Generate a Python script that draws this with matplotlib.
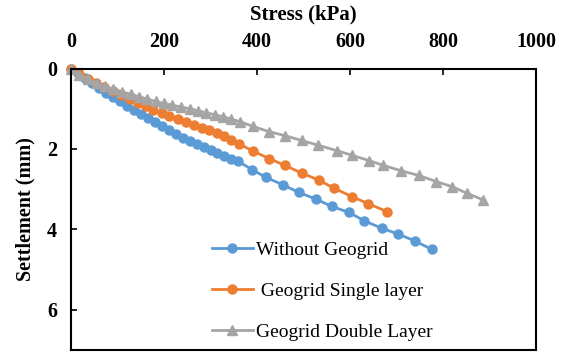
import matplotlib
matplotlib.use("Agg")
import matplotlib.pyplot as plt

# load-settlement readings (stress in kPa, settlement in mm)
stress_none = [0, 15, 30, 45, 60, 75, 90, 105, 120, 135, 150, 165, 180, 195, 210,
               225, 240, 255, 270, 285, 300, 315, 330, 345, 360, 390, 420, 455,
               490, 527, 561, 598, 631, 668, 704, 740, 776]
settle_none = [0, 0.12, 0.24, 0.36, 0.48, 0.60, 0.71, 0.82, 0.93, 1.03, 1.13, 1.23,
               1.33, 1.44, 1.54, 1.63, 1.72, 1.80, 1.88, 1.96, 2.03, 2.10, 2.17,
               2.24, 2.31, 2.52, 2.71, 2.89, 3.08, 3.25, 3.43, 3.58, 3.79, 3.97,
               4.12, 4.29, 4.50]

stress_single = [0, 18, 36, 54, 72, 90, 108, 126, 144, 162, 177, 195, 211, 230, 247,
                 264, 281, 297, 313, 328, 345, 362, 391, 426, 460, 496, 534, 566,
                 605, 639, 680]
settle_single = [0, 0.13, 0.25, 0.36, 0.46, 0.56, 0.66, 0.76, 0.85, 0.94, 1.02, 1.10,
                 1.17, 1.26, 1.33, 1.40, 1.47, 1.54, 1.61, 1.69, 1.78, 1.88, 2.05,
                 2.24, 2.41, 2.60, 2.78, 2.98, 3.19, 3.36, 3.56]

stress_double = [0, 18, 36, 55, 73, 91, 110, 128, 146, 164, 182, 200, 218, 237, 255,
                 273, 291, 309, 327, 345, 363, 391, 426, 460, 496, 532, 571, 605,
                 641, 672, 709, 748, 785, 820, 851, 885]
settle_double = [0, 0.15, 0.26, 0.36, 0.44, 0.51, 0.58, 0.64, 0.70, 0.76, 0.82, 0.87,
                 0.91, 0.96, 1.00, 1.05, 1.10, 1.15, 1.20, 1.26, 1.32, 1.44, 1.57,
                 1.67, 1.79, 1.91, 2.04, 2.16, 2.29, 2.41, 2.54, 2.66, 2.81, 2.94,
                 3.10, 3.26]

labels = ['Without Geogrid', ' Geogrid Single layer', 'Geogrid Double Layer']
colors = ['#5B9BD5', '#ED7D31', '#A5A5A5']

plt.rcParams['font.family'] = 'Liberation Serif'

fig = plt.figure(figsize=(5.63, 3.53), dpi=100)
ax = fig.add_axes([71/563, 3/353, 465/563, 281.5/353])

series = [(stress_none, settle_none, 'o'),
          (stress_single, settle_single, 'o'),
          (stress_double, settle_double, '^')]
for (x, y, m), c, lab in zip(series, colors, labels):
    ax.plot(x, y, marker=m, ms=6.5, lw=2, color=c, label=lab, clip_on=False)

ax.set_xlim(0, 1000)
ax.set_ylim(7, 0)
ax.set_xticks([0, 200, 400, 600, 800, 1000])
ax.set_yticks([0, 2, 4, 6])

ax.xaxis.tick_top()
ax.xaxis.set_label_position('top')
ax.tick_params(axis='x', direction='in', length=4, width=1.2, pad=12, labelsize=14.5)
ax.tick_params(axis='y', direction='in', length=4, width=1.2, pad=10, labelsize=14.5)
for t in ax.get_xticklabels() + ax.get_yticklabels():
    t.set_fontweight('bold')
for sp in ax.spines.values():
    sp.set_linewidth(1.5)

ax.set_xlabel('Stress (kPa)', fontsize=15, fontweight='bold', labelpad=9)
ax.set_ylabel('Settlement (mm)', fontsize=14.5, fontweight='bold', labelpad=8)

ax.legend(loc='upper left', bbox_to_anchor=(0.303, 0.385), frameon=False,
          fontsize=14, handlelength=2.1, handletextpad=0.15, labelspacing=1.2,
          borderpad=0, borderaxespad=0, numpoints=1)

fig.savefig('out.png', dpi=100)
